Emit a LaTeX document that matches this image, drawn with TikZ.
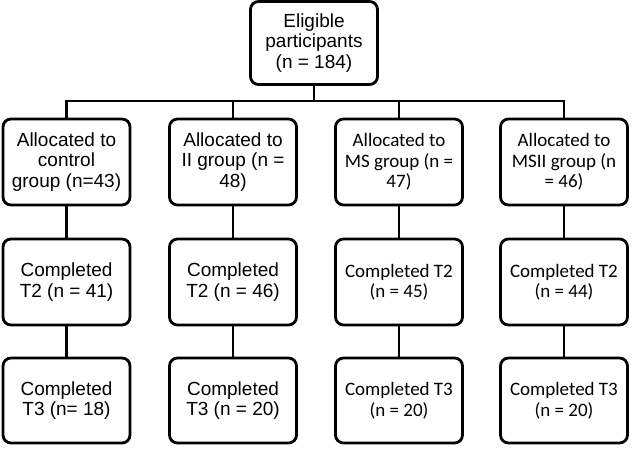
\documentclass[tikz,border=0pt]{standalone}
\usepackage{fontspec}
\setmainfont{Liberation Sans}
\newfontfamily\calib{Carlito}
\usepackage{tikz}

\begin{document}
\begin{tikzpicture}[x=1pt,y=-1pt,
    box/.style={draw, line width=2.8pt, rounded corners=8pt, fill=white,
        minimum width=127pt, align=center, inner sep=0pt,
        font=\fontsize{19}{20.5}\selectfont},
    cbox/.style={box, font=\calib\fontsize{19}{20.5}\selectfont},
    link/.style={line width=2.8pt}]
    \useasboundingbox (0,0) rectangle (633,449);

    \node[box, minimum height=83pt] (top) at (314,43) {Eligible\\participants\\(n = 184)};

    \node[box, minimum height=86pt] (ctrl) at (66.5,162) {Allocated to\\control\\group (n=43)};
    \node[box, minimum height=86pt] (ii) at (233,162) {Allocated to\\II group (n =\\48)};
    \node[cbox, minimum height=86pt] (ms) at (399,162) {Allocated to\\MS group (n =\\47)};
    \node[cbox, minimum height=86pt] (msii) at (564,162) {Allocated to\\MSII group (n\\= 46)};

    \node[box, minimum height=86pt] (ctrlA) at (66.5,282) {Completed\\T2 (n = 41)};
    \node[box, minimum height=86pt] (iiA) at (233,282) {Completed\\T2 (n = 46)};
    \node[cbox, minimum height=86pt] (msA) at (399,282) {Completed T2\\(n = 45)};
    \node[cbox, minimum height=86pt] (msiiA) at (564,282) {Completed T2\\(n = 44)};

    \node[box, minimum height=85pt] (ctrlB) at (66.5,400.5) {Completed\\T3 (n= 18)};
    \node[box, minimum height=85pt] (iiB) at (233,400.5) {Completed\\T3 (n = 20)};
    \node[cbox, minimum height=85pt] (msB) at (399,400.5) {Completed T3\\(n = 20)};
    \node[cbox, minimum height=85pt] (msiiB) at (564,400.5) {Completed T3\\(n = 20)};

    \coordinate (bus) at (314,101);
    \draw[link] (top.south) -- (bus);
    \draw[link] (ctrl.north) |- (bus) -| (msii.north);
    \draw[link] (ii.north) -- (ii.north |- bus);
    \draw[link] (ms.north) -- (ms.north |- bus);

    \foreach \g in {ctrl,ii,ms,msii} {
        \draw[link] (\g.south) -- (\g A.north);
        \draw[link] (\g A.south) -- (\g B.north);
    }
\end{tikzpicture}
\end{document}
